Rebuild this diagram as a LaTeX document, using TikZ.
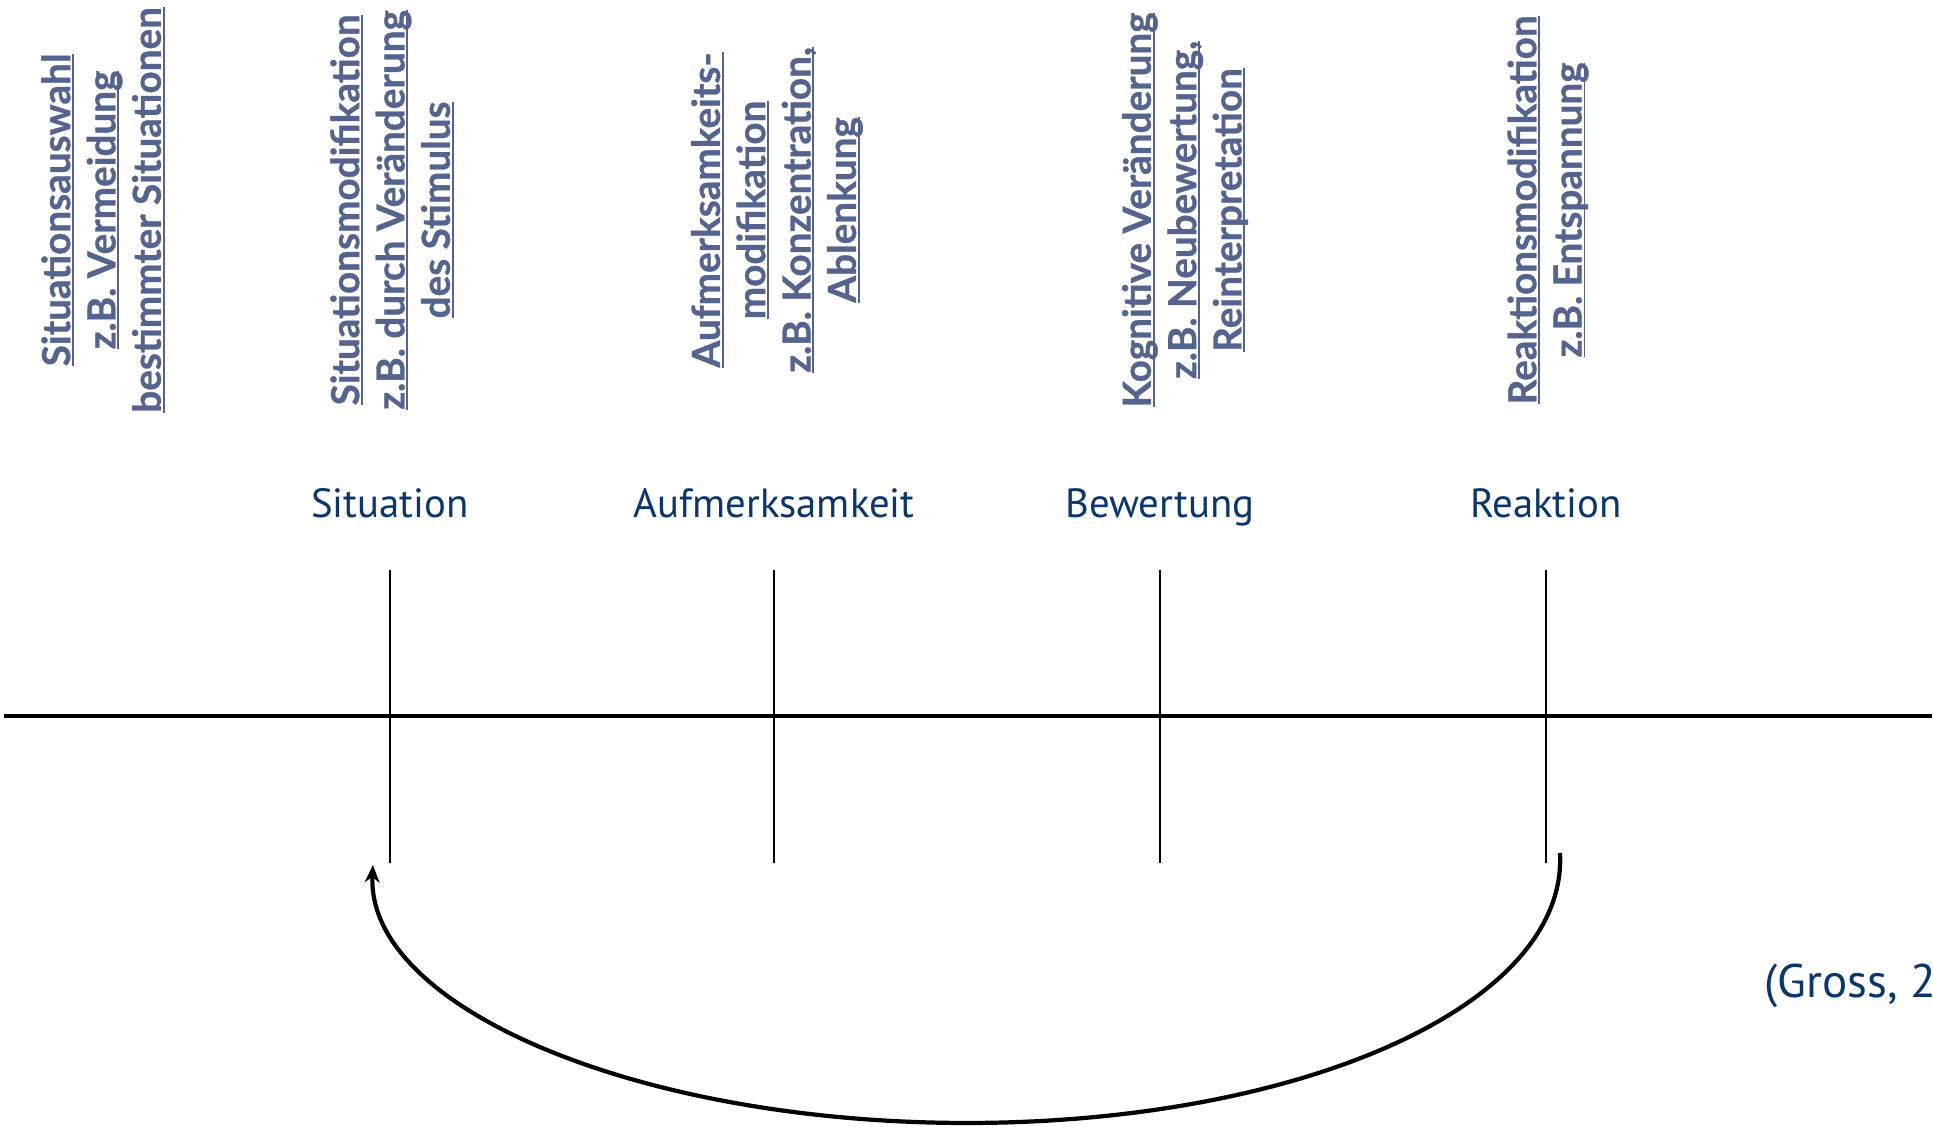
\documentclass[tikz,border=0pt]{standalone}
\usepackage{fontspec}
\setmainfont{Lato}
\newfontfamily\labelfont{PT Sans}
\newfontfamily\stratfont[FakeBold=0.8]{Lato}
\usepackage{calc}
\usetikzlibrary{arrows.meta}
\definecolor{stratblue}{HTML}{55638F}
\definecolor{phaseblue}{HTML}{0A3670}

\newlength\ulwd
\newcommand\ulin[1]{\settowidth{\ulwd}{#1}\rlap{\rule[-1.1pt]{\ulwd}{0.55pt}}#1}

\begin{document}
\begin{tikzpicture}[->,>={Stealth[length=5pt,width=4.2pt]},thick,
    strategy node/.style={rotate=90,align=center,text=stratblue,font=\stratfont\fontsize{11}{12.9}\selectfont\bfseries},
    phase node/.style={anchor=base,text=phaseblue,font=\labelfont\fontsize{11.6}{14}\selectfont},
    tick line/.style={-,line width=0.6pt},
    loop line/.style={line width=1.2pt}]
                \useasboundingbox (0,0) rectangle (19.33,11.27);

                \node[strategy node] (s1) at (1.03,9.17) {\ulin{Situationsauswahl}\\\ulin{z.B. Vermeidung}\\\ulin{bestimmter Situationen}};
                \node[strategy node] (s2) at (3.92,9.17) {\ulin{Situationsmodifikation}\\\ulin{z.B. durch Veränderung}\\\ulin{des Stimulus}};
                \node[strategy node] (s3) at (7.77,9.17) {\ulin{Aufmerksamkeits-}\\\ulin{modifikation}\\\ulin{z.B. Konzentration,}\\\ulin{Ablenkung}};
                \node[strategy node] (s4) at (11.85,9.17) {\ulin{Kognitive Veränderung}\\\ulin{z.B. Neubewertung,}\\\ulin{Reinterpretation}};
                \node[strategy node] (s5) at (15.48,9.17) {\ulin{Reaktionsmodifikation}\\\ulin{z.B. Entspannung}};

                \node[phase node] (sit) at (3.90,6.09) {Situation};
                \node[phase node] (auf) at (7.74,6.09) {Aufmerksamkeit};
                \node[phase node] (bew) at (11.60,6.09) {Bewertung};
                \node[phase node] (rea) at (15.46,6.09) {Reaktion};
                \node[phase node,anchor=base west,inner sep=0pt,font=\labelfont\fontsize{13.4}{16}\selectfont] (ref) at (17.63,1.29) {(Gross, 2};

                \coordinate (t1) at (3.90,5.57);  \coordinate (b1) at (3.90,2.64);
                \coordinate (t2) at (7.74,5.57);  \coordinate (b2) at (7.74,2.64);
                \coordinate (t3) at (11.60,5.57); \coordinate (b3) at (11.60,2.64);
                \coordinate (t4) at (15.46,5.57); \coordinate (b4) at (15.46,2.64);
                \coordinate (left) at (0.04,4.11);
                \coordinate (right) at (19.32,4.11);
                \coordinate (from) at (15.60,2.74);
                \coordinate (to) at (3.73,2.62);

                \path[tick line]
                    (t1) edge (b1)
                    (t2) edge (b2)
                    (t3) edge (b3)
                    (t4) edge (b4)
                    (left) edge[line width=0.9pt] (right)
                    ;

                \draw[loop line] (from) .. controls (15.68,1.20) and (12.97,0.04) .. (9.67,0.04)
                    .. controls (6.37,0.04) and (3.66,1.20) .. (to);
            \end{tikzpicture}
\end{document}
